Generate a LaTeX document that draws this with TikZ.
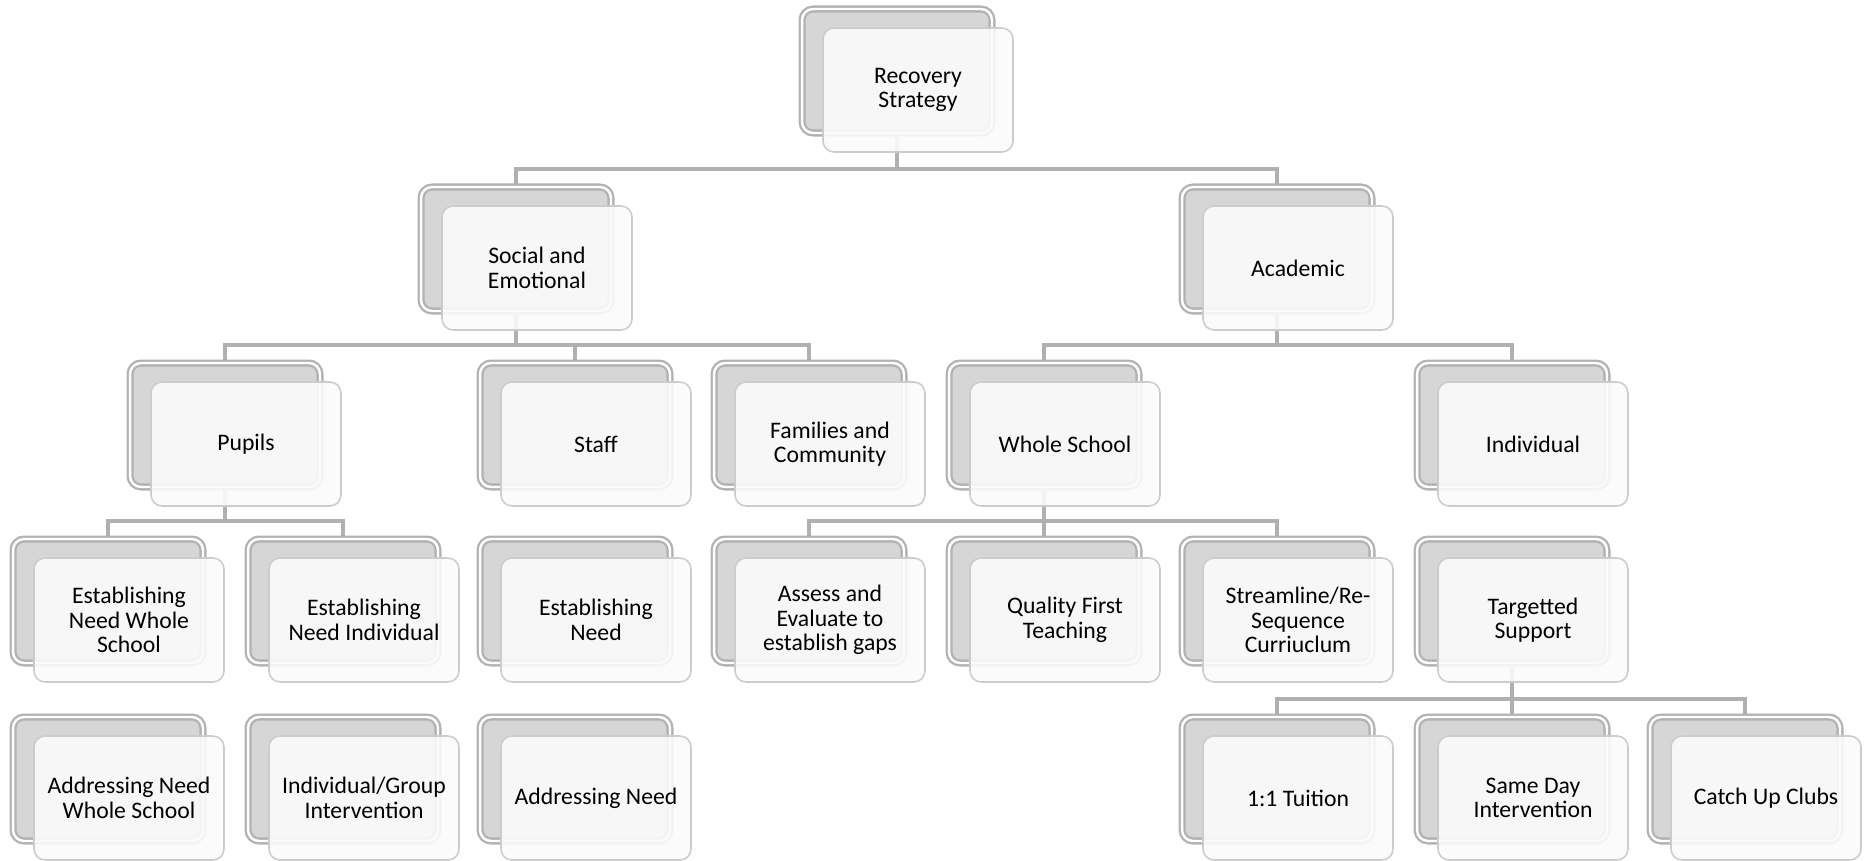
\documentclass[tikz,border=0pt]{standalone}
\usepackage{fontspec}
\setmainfont{Carlito}
\usetikzlibrary{shadows}
\pgfdeclarelayer{bg}
\pgfsetlayers{bg,main}

\begin{document}
\begin{tikzpicture}
  [x=0.02cm,y=-0.02cm,every node/.style={box},
   box/.style={draw=gray!40,line width=0.9pt,fill=gray!3,fill opacity=0.9,text opacity=1,
     rounded corners=0.22cm,minimum width=3.8cm,minimum height=2.48cm,align=center,
     font=\fontsize{13.5}{14}\selectfont,
     general shadow={shadow xshift=-0.42cm,shadow yshift=0.38cm,fill=gray!32,
       draw=gray!60,line width=1.3pt,fill opacity=1,double=white,double distance=1.4pt}},
   link/.style={draw=gray!62,line width=2pt,
     to path={([xshift=-0.42cm]\tikztostart.center)
       |- ([xshift=-0.42cm,yshift=1.98cm]\tikztotarget.center)
       -- ([xshift=-0.42cm]\tikztotarget.center)}}]
  \useasboundingbox (0,0) rectangle (1867,861);

  \node (rec) at (918,90) {Recovery\\Strategy};

  \node (soc) at (537,268)  {Social and\\Emotional};
  \node (aca) at (1298,268) {Academic};

  \node (pup)   at (246,444)  {Pupils};
  \node (staff) at (596,444)  {Staff};
  \node (fam)   at (830,444)  {Families and\\Community};
  \node (whole) at (1065,444) {Whole School};
  \node (indiv) at (1533,444) {Individual};

  \node (estws)   at (129,620)  {Establishing\\Need Whole\\School};
  \node (estind)  at (364,620)  {Establishing\\Need Individual};
  \node (estneed) at (596,620)  {Establishing\\Need};
  \node (assess)  at (830,620)  {Assess and\\Evaluate to\\establish gaps};
  \node (qft)     at (1065,620) {Quality First\\Teaching};
  \node (stream)  at (1298,620) {Streamline/Re-\\Sequence\\Curriuclum};
  \node (targ)    at (1533,620) {Targetted\\Support};

  \node (addws)   at (129,798)  {Addressing Need\\Whole School};
  \node (indgrp)  at (364,798)  {Individual/Group\\Intervention};
  \node (addneed) at (596,798)  {Addressing Need};
  \node (tuition) at (1298,798) {1:1 Tuition};
  \node (sameday) at (1533,798) {Same Day\\Intervention};
  \node (catch)   at (1766,798) {Catch Up Clubs};

  \begin{pgfonlayer}{bg}
    \draw[link] (rec) to (soc) (rec) to (aca);
    \draw[link] (soc) to (pup) (soc) to (staff) (soc) to (fam);
    \draw[link] (aca) to (whole) (aca) to (indiv);
    \draw[link] (pup) to (estws) (pup) to (estind);
    \draw[link] (whole) to (assess) (whole) to (qft) (whole) to (stream);
    \draw[link] (targ) to (tuition) (targ) to (sameday) (targ) to (catch);
  \end{pgfonlayer}
\end{tikzpicture}
\end{document}
